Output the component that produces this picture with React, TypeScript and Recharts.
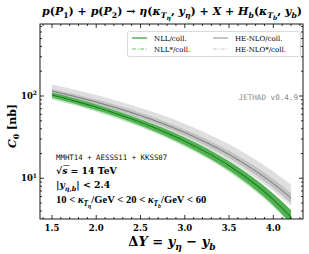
import React from 'react';
import { ComposedChart, Area, Line, XAxis, YAxis } from 'recharts';

// rapidity interval ΔY
const DY = [1.5, 1.75, 2.0, 2.25, 2.5, 2.75, 3.0, 3.25, 3.5, 3.75, 4.0, 4.2];

// C0 [nb]
const NLL = [102.8, 87.3, 72.9, 59.7, 47.9, 37.3, 28.2, 20.5, 14.2, 9.2, 5.5, 3.35];
const NLL_LO = [96.1, 81.2, 67.5, 55.0, 43.9, 33.9, 25.4, 18.3, 12.5, 8.0, 4.7, 2.8];
const NLL_HI = [110, 93.8, 78.7, 64.8, 52.2, 41.0, 31.3, 23.0, 16.1, 10.6, 6.5, 4.1];

const NLLS = [100.7, 85.6, 71.4, 58.5, 46.9, 36.6, 27.6, 20.1, 13.9, 9.0, 5.4, 3.28];
const NLLS_LO = [91.5, 77.5, 64.3, 52.5, 41.9, 32.4, 24.2, 17.5, 11.9, 7.6, 4.5, 2.7];
const NLLS_HI = [110.8, 94.6, 79.3, 65.2, 52.5, 41.4, 31.5, 23.1, 16.2, 10.7, 6.5, 4.1];

const HE = [115, 99.3, 84.5, 70.6, 57.9, 46.3, 36.0, 27.0, 19.5, 13.3, 8.63, 5.75];
const HE_LO = [108.5, 93.2, 79.0, 65.7, 53.6, 42.7, 33.0, 24.5, 17.6, 11.9, 7.6, 5.0];
const HE_HI = [121.9, 105.8, 90.4, 75.9, 62.5, 50.2, 39.2, 29.7, 21.6, 14.9, 9.8, 6.6];

const HES = [119.6, 103.3, 87.9, 73.4, 60.2, 48.2, 37.4, 28.1, 20.3, 13.8, 8.98, 5.98];
const HES_LO = [106.8, 91.4, 77.1, 63.8, 51.9, 41.2, 31.4, 23.2, 16.5, 11.0, 7.0, 4.6];
const HES_HI = [137.5, 119.8, 102.8, 86.6, 71.6, 58.3, 46.0, 35.1, 26.0, 18.1, 12.1, 8.4];

const X_TICKS = [1.4, 1.5, 1.6, 1.7, 1.8, 1.9, 2.0, 2.1, 2.2, 2.3, 2.4, 2.5, 2.6, 2.7, 2.8, 2.9, 3.0,
  3.1, 3.2, 3.3, 3.4, 3.5, 3.6, 3.7, 3.8, 3.9, 4.0, 4.1, 4.2, 4.3];
const Y_TICKS = [4, 5, 6, 7, 8, 9, 10, 20, 30, 40, 50, 60, 70, 80, 90, 100, 200, 300, 400, 500, 600, 700];

const W = 309, H = 254;
const L = 40, R = 303, T = 24, B = 219;
const AX_H = 30, AX_W = 35;

const SERIF = '"DejaVu Serif", "Liberation Serif", serif';
const NARROW = '"Liberation Serif", "DejaVu Serif", serif';
const MONO = '"DejaVu Sans Mono", "Liberation Mono", monospace';

const data = DY.map((x, i) => ({
  x,
  nll: NLL[i], nllBand: [NLL_LO[i], NLL_HI[i]],
  nlls: NLLS[i], nllsBand: [NLLS_LO[i], NLLS_HI[i]],
  he: HE[i], heBand: [HE_LO[i], HE_HI[i]],
  hes: HES[i], hesBand: [HES_LO[i], HES_HI[i]],
}));

// [text, level (0 base, 1 sub, 2 subsub, -1 sup), italic]
type Seg = [string, number, boolean];

function rich(segs: Seg[], size: number) {
  const off = (l: number) => (l === 1 ? 0.28 : l === 2 ? 0.45 : l === -1 ? -0.42 : 0) * size;
  const fs = (l: number) => (l === 0 ? size : l === 2 ? size * 0.55 : size * 0.7);
  let prev = 0;
  return segs.map(([t, l, it], i) => {
    const dy = off(l) - off(prev);
    prev = l;
    return (
      <tspan key={i} dy={dy} fontSize={fs(l)} fontStyle={it ? 'italic' : 'normal'}>{t}</tspan>
    );
  });
}

const XTick = (props: any) => {
  const { x, payload } = props;
  const v = payload.value as number;
  const major = Math.abs(v * 2 - Math.round(v * 2)) < 1e-6;
  const len = major ? 4 : 2;
  return (
    <g>
      <line x1={x} x2={x} y1={B} y2={B - len} stroke="#000" strokeWidth={0.8} />
      <line x1={x} x2={x} y1={T} y2={T + len} stroke="#000" strokeWidth={0.8} />
      {major && (
        <text x={x} y={B + 12} textAnchor="middle" fontFamily={SERIF} fontWeight="bold" fontSize={8.5} fill="#000">
          {v.toFixed(1)}
        </text>
      )}
    </g>
  );
};

const YTick = (props: any) => {
  const { y, payload } = props;
  const v = payload.value as number;
  const e = Math.log10(v);
  const major = Math.abs(e - Math.round(e)) < 1e-6;
  const len = major ? 4 : 2;
  return (
    <g>
      <line x1={L} x2={L + len} y1={y} y2={y} stroke="#000" strokeWidth={0.8} />
      <line x1={R} x2={R - len} y1={y} y2={y} stroke="#000" strokeWidth={0.8} />
      {major && (
        <text x={L - 3} y={y + 3} textAnchor="end" fontFamily={SERIF} fontWeight="bold" fontSize={8.5} fill="#000">
          {rich([['10', 0, false], [String(Math.round(e)), -1, false]], 8.5)}
        </text>
      )}
    </g>
  );
};

const LegendRow = ({ x, y, color, dash, label }: { x: number; y: number; color: string; dash?: string; label: string }) => (
  <g>
    <line x1={x} x2={x + 15} y1={y} y2={y} stroke={color} strokeWidth={1.2} strokeDasharray={dash} />
    <text x={x + 22} y={y + 2.5} fontFamily={SERIF} fontSize={7} fill="#000">{label}</text>
  </g>
);

export default function App() {
  return (
    <div style={{ position: 'absolute', left: 0, top: 0, width: W, height: H, background: '#fff' }}>
      <ComposedChart width={W} height={H} data={data}
        margin={{ top: T, right: W - R, bottom: H - B - AX_H, left: L - AX_W }}>
        <XAxis dataKey="x" type="number" domain={[1.365, 4.335]} ticks={X_TICKS} interval={0}
          height={AX_H} axisLine={false} tickLine={false} tick={<XTick />} allowDataOverflow />
        <YAxis type="number" scale="log" domain={[3.2, 750]} ticks={Y_TICKS} interval={0}
          width={AX_W} axisLine={false} tickLine={false} tick={<YTick />} allowDataOverflow />
        <Area type="monotone" dataKey="hesBand" stroke="none" fill="#dcdcdc" fillOpacity={0.9} isAnimationActive={false} />
        <Area type="monotone" dataKey="heBand" stroke="none" fill="#b4b4b4" fillOpacity={0.7} isAnimationActive={false} />
        <Area type="monotone" dataKey="nllsBand" stroke="none" fill="#8fd18f" fillOpacity={0.6} isAnimationActive={false} />
        <Area type="monotone" dataKey="nllBand" stroke="none" fill="#3fa83f" fillOpacity={0.85} isAnimationActive={false} />
        <Line type="monotone" dataKey="hes" stroke="#c8c8c8" strokeWidth={1} strokeDasharray="4 1.5 1 1.5" dot={false} isAnimationActive={false} />
        <Line type="monotone" dataKey="he" stroke="#7a7a7a" strokeWidth={1} dot={false} isAnimationActive={false} />
        <Line type="monotone" dataKey="nlls" stroke="#6cc36c" strokeWidth={1} strokeDasharray="4 1.5 1 1.5" dot={false} isAnimationActive={false} />
        <Line type="monotone" dataKey="nll" stroke="#1a7f1a" strokeWidth={1.1} dot={false} isAnimationActive={false} />
      </ComposedChart>
      <svg width={W} height={H} style={{ position: 'absolute', left: 0, top: 0, pointerEvents: 'none' }}>
        <rect x={L} y={T} width={R - L} height={B - T} fill="none" stroke="#000" strokeWidth={0.9} />
        <text x={172} y={15} textAnchor="middle" fontFamily={SERIF} fontWeight="bold" fontSize={11} fill="#000">
          {rich([
            ['p', 0, true], ['(', 0, false], ['P', 0, true], ['1', 1, false], [') + ', 0, false],
            ['p', 0, true], ['(', 0, false], ['P', 0, true], ['2', 1, false], [') → ', 0, false],
            ['η', 0, true], ['(', 0, false], ['κ', 0, true], ['T', 1, true], ['η', 2, true], [', ', 0, false],
            ['y', 0, true], ['η', 1, true], [') + ', 0, false], ['X', 0, true], [' + ', 0, false],
            ['H', 0, true], ['b', 1, true], ['(', 0, false], ['κ', 0, true], ['T', 1, true], ['b', 2, true],
            [', ', 0, false], ['y', 0, true], ['b', 1, true], [')', 0, false],
          ], 11)}
        </text>
        <rect x={127.5} y={31.5} width={173} height={25} rx={2} fill="#fff" stroke="#cfcfcf" strokeWidth={0.8} />
        <LegendRow x={132} y={38} color="#2a9a2a" label="NLL/coll." />
        <LegendRow x={132} y={49} color="#6cc36c" dash="4 1.5 1 1.5" label="NLL*/coll." />
        <LegendRow x={213} y={38} color="#a0a0a0" label="HE-NLO/coll." />
        <LegendRow x={213} y={49} color="#c8c8c8" dash="4 1.5 1 1.5" label="HE-NLO*/coll." />
        <text x={298} y={100} textAnchor="end" fontFamily={MONO} fontSize={7.6} fill="#888">JETHAD v0.4.9</text>
        <text x={56} y={160} fontFamily={MONO} fontSize={7.4} fill="#111">MMHT14 + AESSS11 + KKSS07</text>
        <text x={56} y={174} fontFamily={SERIF} fontWeight="bold" fontSize={9.3} fill="#000">
          {rich([['√', 0, false], ['s', 0, true], [' = 14 TeV', 0, false]], 9.3)}
        </text>
        <line x1={63.5} x2={69.5} y1={165.5} y2={165.5} stroke="#000" strokeWidth={0.6} />
        <text x={56} y={188} fontFamily={SERIF} fontWeight="bold" fontSize={9.3} fill="#000">
          {rich([['|', 0, false], ['y', 0, true], ['η,b', 1, true], ['| < 2.4', 0, false]], 9.3)}
        </text>
        <text x={56} y={203} fontFamily={NARROW} fontWeight="bold" fontSize={10.6} fill="#000">
          {rich([
            ['10 < ', 0, false], ['κ', 0, true], ['T', 1, true], ['η', 2, true], ['/GeV < 20 < ', 0, false],
            ['κ', 0, true], ['T', 1, true], ['b', 2, true], ['/GeV < 60', 0, false],
          ], 10.6)}
        </text>
        <text transform="translate(16,126) rotate(-90)" textAnchor="middle" fontFamily={SERIF} fontWeight="bold" fontSize={11} fill="#000">
          {rich([['C', 0, true], ['0', 1, false], [' [nb]', 0, false]], 11)}
        </text>
        <text x={172} y={246} textAnchor="middle" fontFamily={SERIF} fontWeight="bold" fontSize={13} fill="#000">
          {rich([['Δ', 0, false], ['Y', 0, true], [' = ', 0, false], ['y', 0, true], ['η', 1, true],
            [' − ', 0, false], ['y', 0, true], ['b', 1, true]], 13)}
        </text>
      </svg>
    </div>
  );
}
